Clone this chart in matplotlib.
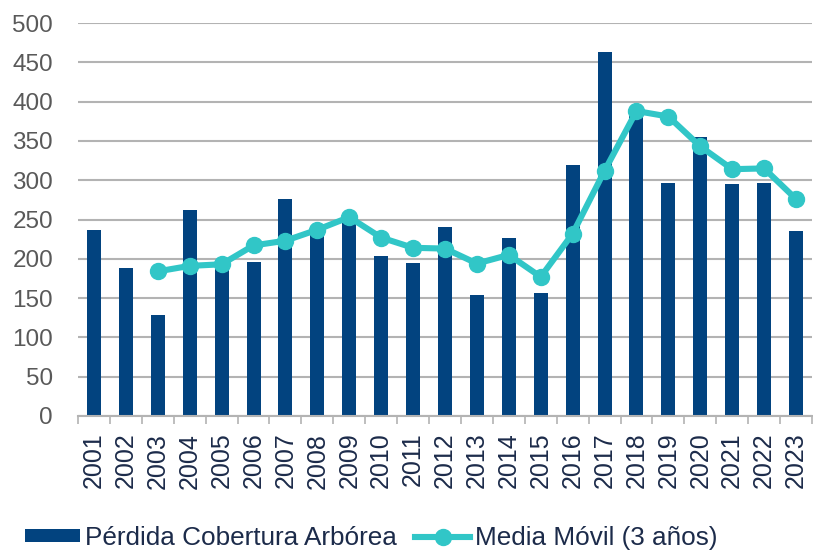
import matplotlib
matplotlib.use("Agg")
import matplotlib.pyplot as plt
from matplotlib.lines import Line2D
from matplotlib.patches import Patch
import numpy as np

plt.rcParams['font.family'] = ['Liberation Sans', 'DejaVu Sans']

years = [str(y) for y in range(2001, 2024)]
perdida = [237, 188, 128, 262, 190, 196, 276, 240, 245, 203, 195, 240,
           154, 226, 156, 319, 463, 383, 297, 355, 295, 296, 236]
media_movil = [None, None, 184, 191, 193, 217, 223, 237, 253, 227, 214, 213,
               194, 205, 177, 232, 312, 388, 381, 343, 314, 315, 276]
yticks = [0, 50, 100, 150, 200, 250, 300, 350, 400, 450, 500]

bar_color = '#02437F'
line_color = '#31C6C7'
ytext_color = '#595959'
xtext_color = '#1C2B4A'
grid_color = '#B3B3B3'

fig = plt.figure(figsize=(8.13, 5.5), dpi=100)
ax = fig.add_axes([78/813, 1-416/550, (812-78)/813, (416-23)/550])

x = np.arange(len(years))
ax.bar(x, perdida, width=0.44, color=bar_color, zorder=2)
mx = [i for i, v in enumerate(media_movil) if v is not None]
my = [v for v in media_movil if v is not None]
ax.plot(mx, my, color=line_color, lw=4.4, marker='o', markersize=11.5,
        zorder=3, solid_capstyle='round', solid_joinstyle='round')

ax.set_xlim(-0.5, len(years) - 0.5)
ax.set_ylim(0, 500)
ax.set_yticks(yticks)
ax.set_yticklabels([str(t) for t in yticks])
ax.yaxis.grid(True, color=grid_color, lw=1.5, zorder=0)
ax.set_axisbelow(True)

for s in ['top', 'right', 'left']:
    ax.spines[s].set_visible(False)
ax.spines['bottom'].set_color(grid_color)
ax.spines['bottom'].set_linewidth(1.5)

ax.set_xticks(x)
ax.set_xticklabels(years, rotation=90, fontsize=18, color=xtext_color)
ax.set_xticks(np.arange(-0.5, len(years)), minor=True)
ax.tick_params(axis='x', which='major', length=0, pad=12)
ax.tick_params(axis='x', which='minor', length=6, color=grid_color, width=1.2)
ax.tick_params(axis='y', length=0, pad=18, labelsize=17.5, labelcolor=ytext_color)

handles = [Patch(facecolor=bar_color, edgecolor='none'),
           Line2D([0], [0], color=line_color, lw=4.4, marker='o', markersize=11.5)]
labels = ['Pérdida Cobertura Arbórea', 'Media Móvil (3 años)']
fig.legend(handles, labels, loc='center left', bbox_to_anchor=(25/813, 1-538/550),
           ncol=2, frameon=False, fontsize=18.8, labelcolor=xtext_color,
           handlelength=2.1, handleheight=0.35, handletextpad=0.2,
           columnspacing=0.7, borderaxespad=0, borderpad=0)

fig.savefig('out.png', dpi=100)
